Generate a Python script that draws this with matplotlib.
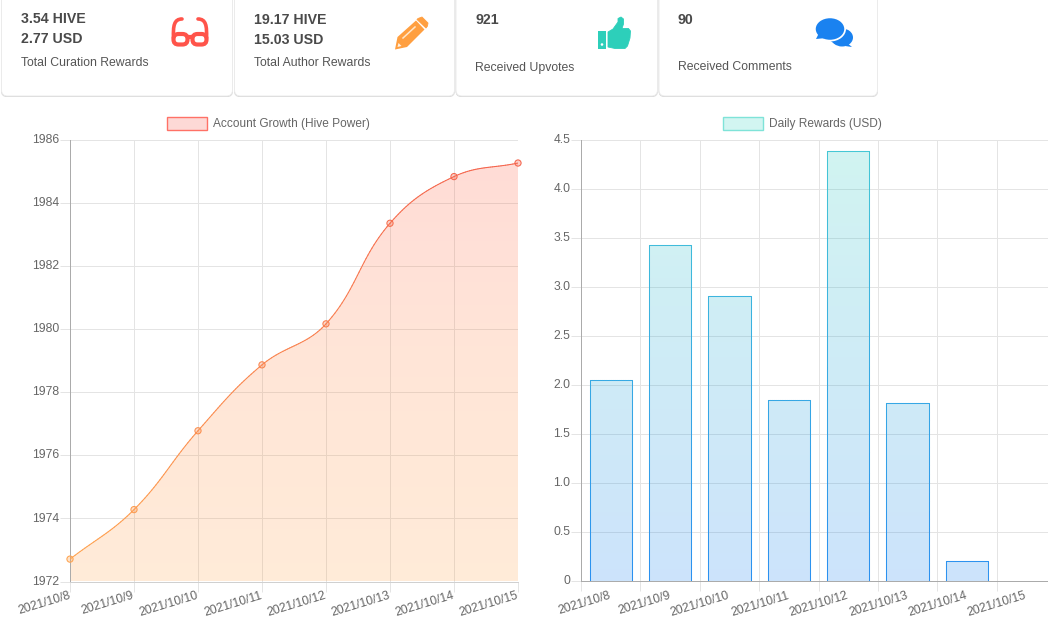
import numpy as np
import matplotlib
matplotlib.use('Agg')
import matplotlib.pyplot as plt
from matplotlib.collections import LineCollection
from matplotlib.colors import LinearSegmentedColormap
from matplotlib.patches import Circle, Ellipse, FancyBboxPatch, PathPatch, Polygon, Rectangle
from matplotlib.path import Path
from matplotlib.transforms import ScaledTranslation

plt.rcParams['font.family'] = ['Liberation Sans', 'DejaVu Sans']

W, H = 1048, 629

# data
dates = ['2021/10/8', '2021/10/9', '2021/10/10', '2021/10/11',
         '2021/10/12', '2021/10/13', '2021/10/14', '2021/10/15']
hive_power = [1972.71, 1974.28, 1976.78, 1978.87, 1980.17, 1983.36, 1984.84, 1985.27]
daily_rewards = [2.05, 3.43, 2.91, 1.85, 4.39, 1.82, 0.2, 0]
card_top = ['3.54 HIVE', '19.17 HIVE', '921', '90']
card_second = ['2.77 USD', '15.03 USD', '', '']
card_labels = ['Total Curation Rewards', 'Total Author Rewards', 'Received Upvotes', 'Received Comments']

GRID = '#e4e4e4'
TEXT = '#666666'
RED, PEACH, ORANGE = '#ff5c47', '#ff8c4c', '#ffa64f'
TEAL, BLUE = '#2fcfc0', '#1a82f0'


def px_axes(left, top, right, bottom):
    return fig.add_axes([left / W, 1 - bottom / H, (right - left) / W, (bottom - top) / H])


def style_axes(ax, xmax, ymin, ymax, yticks, ylabels, bottom_color):
    ax.set_xlim(0, xmax)
    ax.set_ylim(ymin, ymax)
    ax.set_yticks(yticks)
    ax.set_yticklabels(ylabels)
    ax.tick_params(axis='both', which='major', length=7.2, width=0.72, color=GRID, labelcolor=TEXT, labelsize=8.7)
    ax.tick_params(axis='x', which='both', pad=3)
    ax.tick_params(axis='y', pad=0.5)
    ax.grid(True, color=GRID, linewidth=0.72)
    ax.set_axisbelow(True)
    ax.spines['top'].set_visible(False)
    ax.spines['right'].set_visible(False)
    ax.spines['left'].set_color('#ababab')
    ax.spines['bottom'].set_color(bottom_color)
    for s in ['left', 'bottom']:
        ax.spines[s].set_linewidth(0.72)
    nudge = ScaledTranslation(0, 1.0 / 72, fig.dpi_scale_trans)
    for lab in ax.get_yticklabels():
        lab.set_transform(lab.get_transform() + nudge)


def gradient_fill(ax, path, stops, alpha):
    cmap = LinearSegmentedColormap.from_list('g', stops)
    xl, yl = ax.get_xlim(), ax.get_ylim()
    im = ax.imshow(np.linspace(0, 1, 256).reshape(-1, 1), cmap=cmap, alpha=alpha, aspect='auto',
                   extent=[xl[0], xl[1], yl[0], yl[1]], origin='upper', zorder=1.5)
    im.set_clip_path(PathPatch(path, transform=ax.transData))
    ax.set_xlim(xl)
    ax.set_ylim(yl)


def gradient_stroke(ax, pts, top, bottom, lw):
    cmap = LinearSegmentedColormap.from_list('g', [top, bottom])
    yl = ax.get_ylim()
    pts = np.asarray(pts)
    segs = np.stack([pts[:-1], pts[1:]], axis=1)
    frac = (yl[1] - (pts[:-1, 1] + pts[1:, 1]) / 2) / (yl[1] - yl[0])
    ax.add_collection(LineCollection(segs, colors=cmap(frac), linewidths=lw, zorder=3,
                                     capstyle='round'), autolim=False)


def spline_path(xs, ys, sx, sy, t=0.4):
    # bezier control points, same rule as the chart library's tension option
    p = np.column_stack([xs, ys]) * [sx, sy]
    verts = [p[0] / [sx, sy]]
    codes = [Path.MOVETO]
    n = len(p)
    for i in range(n - 1):
        a, b = p[i], p[i + 1]
        pa, nb = p[max(i - 1, 0)], p[min(i + 2, n - 1)]
        d0, d1, d2 = [np.hypot(*v) for v in (a - pa, b - a, nb - b)]
        c1 = a + t * d1 / (d0 + d1) * (b - pa)
        c2 = b - t * d1 / (d1 + d2) * (nb - a)
        verts += [c1 / [sx, sy], c2 / [sx, sy], b / [sx, sy]]
        codes += [Path.CURVE4] * 3
    return Path(verts, codes)


def flatten(path, steps=30):
    pts = [path.vertices[0]]
    for seg, code in path.iter_bezier():
        if code == Path.CURVE4:
            pts.extend(seg(np.linspace(0, 1, steps)[1:]))
    return np.array(pts)


fig = plt.figure(figsize=(W / 100, H / 100), dpi=100, facecolor='white')

# page layer in pixel coordinates: cards, icons, legends
bg = fig.add_axes([0, 0, 1, 1])
bg.set_xlim(0, W)
bg.set_ylim(H, 0)
bg.axis('off')

cards = [(1, 233), (234, 455), (455.5, 658), (658.5, 878)]
text_x = [21, 254, 475, 678]
row_y = [(19, 39, 62.5), (20, 40, 63.5), (20, 40, 67.5), (20, 40, 67.5)]
for i, (x0, x1) in enumerate(cards):
    bg.add_patch(FancyBboxPatch((x0, -20), x1 - x0, 117, boxstyle='round,pad=0,rounding_size=6',
                                fc='#d4d4d4', ec='none'))
    bg.add_patch(FancyBboxPatch((x0 + 0.5, -20), x1 - x0 - 1, 116, boxstyle='round,pad=0,rounding_size=6',
                                fc='white', ec='#ececec', lw=0.7))
    bg.text(text_x[i], row_y[i][0], card_top[i], fontsize=10.2, fontweight='bold', color='#4a4a4a', va='center')
    bg.text(text_x[i], row_y[i][1], card_second[i], fontsize=10.2, fontweight='bold', color='#4a4a4a', va='center')
    bg.text(text_x[i], row_y[i][2], card_labels[i], fontsize=8.85, color='#555555', va='center')

# glasses icon
c = '#ff544a'
for x0 in (173.5, 192.5):
    bg.add_patch(FancyBboxPatch((x0, 34), 14, 10.5, boxstyle='round,pad=0,rounding_size=5', fc='none', ec=c, lw=3.0))
bg.plot([187, 193], [36.5, 36.5], color=c, lw=3.0, solid_capstyle='butt')
for sgn in (-1, 1):
    arm = Path([(190 + sgn * 16.5, 38), (190 + sgn * 17, 26), (190 + sgn * 16, 19), (190 + sgn * 8, 19)],
               [Path.MOVETO, Path.CURVE4, Path.CURVE4, Path.CURVE4])
    bg.add_patch(PathPatch(arm, fc='none', ec=c, lw=2.6, capstyle='round'))

# pencil icon
c = '#ff9f40'
bg.add_patch(Polygon([(395, 49.5), (397.5, 37), (416, 20.5), (424.5, 29.5), (407, 47)], fc=c, ec='none'))
bg.add_patch(Polygon([(418, 18.5), (422, 17), (428, 23), (427.5, 26), (426, 28), (417, 19.5)], fc=c, ec=c, lw=0.6, joinstyle='round'))
bg.plot([403, 415], [38, 27], color='#ffe6c9', lw=1.1)
bg.add_patch(Polygon([(397.5, 47), (398.5, 43), (401.5, 46)], fc='#fff2e2', ec='none'))

# thumbs up icon
c = '#2dcfba'
bg.add_patch(Rectangle((598, 31), 8, 18, fc=c, ec='none'))
bg.add_patch(Circle((602, 44.5), 1.3, fc='white', ec='none'))
hand = [(608, 32), (613, 29), (618, 22), (618, 18.5), (621, 17), (623.5, 19), (623.5, 24), (622, 28.5),
        (628.5, 28.5), (630.5, 31), (630, 38), (627.5, 46), (625, 48.5), (615, 48.5), (608, 47)]
bg.add_patch(Polygon(hand, fc=c, ec=c, lw=0.6, joinstyle='round'))

# comments icon
c = '#1a82f0'
bg.add_patch(Ellipse((842, 37.5), 22, 18, fc=c, ec='none'))
bg.add_patch(Polygon([(846, 42), (852, 47), (845, 46)], fc=c, ec='none'))
bg.add_patch(Polygon([(826, 38), (835, 44), (846, 44)], fc=c, ec='none'))
bg.add_patch(Ellipse((830, 29), 32, 25, fc='white', ec='none'))
bg.add_patch(Ellipse((830, 29), 28.5, 21.5, fc=c, ec='none'))
bg.add_patch(Polygon([(819, 33), (816, 39), (826, 38)], fc=c, ec='none'))

# legends
bg.add_patch(Rectangle((166.5, 117), 40, 12.5, fc='#fdd9d6', ec='#ff7166', lw=1.0))
bg.text(213, 124, 'Account Growth (Hive Power)', fontsize=8.6, color=TEXT, va='center')
bg.add_patch(Rectangle((722.5, 117), 40, 12.5, fc='#d2f5f1', ec='#7fe3d8', lw=1.0))
bg.text(769, 124, 'Daily Rewards (USD)', fontsize=8.6, color=TEXT, va='center')

# left chart, curve through the daily values
ax1 = px_axes(70, 140, 518, 581.5)
ax1.patch.set_alpha(0)
style_axes(ax1, 7, 1972, 1986, range(1972, 1987, 2), [str(v) for v in range(1972, 1987, 2)], '#d0d0d0')
ax1.set_xticks(range(len(dates)))
ax1.set_xticklabels(dates, rotation=17, ha='right', va='center', rotation_mode='anchor')
curve = spline_path(np.arange(len(dates)), hive_power, 64, 441.5 / 14)
line_pts = flatten(curve)
area = np.vstack([line_pts, [(7, 1972), (0, 1972)]])
gradient_fill(ax1, Path(area), [RED, PEACH, ORANGE], 0.22)
gradient_stroke(ax1, line_pts, '#f4604c', ORANGE, 0.75)
ramp = LinearSegmentedColormap.from_list('g', ['#f4604c', ORANGE])
ax1.scatter(range(len(dates)), hive_power, s=20, facecolor=ramp((1986 - np.array(hive_power)) / 14, alpha=0.3),
            edgecolor=ramp((1986 - np.array(hive_power)) / 14), linewidth=0.75, zorder=4, clip_on=False)

# right chart, bars sit between the ticks and labels at bar centres
ax2 = px_axes(581, 140, 1056, 581)
ax2.patch.set_alpha(0)
yt = np.arange(0, 4.6, 0.5)
style_axes(ax2, 8, 0, 4.5, yt, ['0'] + [f'{v:.1f}' for v in yt[1:]], '#ababab')
ax2.set_xticks(range(len(dates) + 1))
ax2.set_xticklabels([])
ax2.set_xticks(np.arange(len(dates)) + 0.5, minor=True)
ax2.set_xticklabels(dates, minor=True, rotation=17, ha='right', va='center', rotation_mode='anchor')
ax2.tick_params(axis='x', which='minor', length=7.2, width=0, labelcolor=TEXT, labelsize=8.7, pad=3)
bar_w = 0.71
verts, codes = [], []
for i, v in enumerate(daily_rewards):
    if v <= 0:
        continue
    l, r = i + 0.5 - bar_w / 2, i + 0.5 + bar_w / 2
    box = [(l, 0), (l, v), (r, v), (r, 0)]
    verts += box + [box[0]]
    codes += [Path.MOVETO, Path.LINETO, Path.LINETO, Path.LINETO, Path.CLOSEPOLY]
    gradient_stroke(ax2, Path(box).interpolated(20).vertices, '#45c8d4', '#2a90f0', 0.75)
gradient_fill(ax2, Path(verts, codes), [TEAL, BLUE], 0.22)

fig.savefig('out.png', dpi=100)
